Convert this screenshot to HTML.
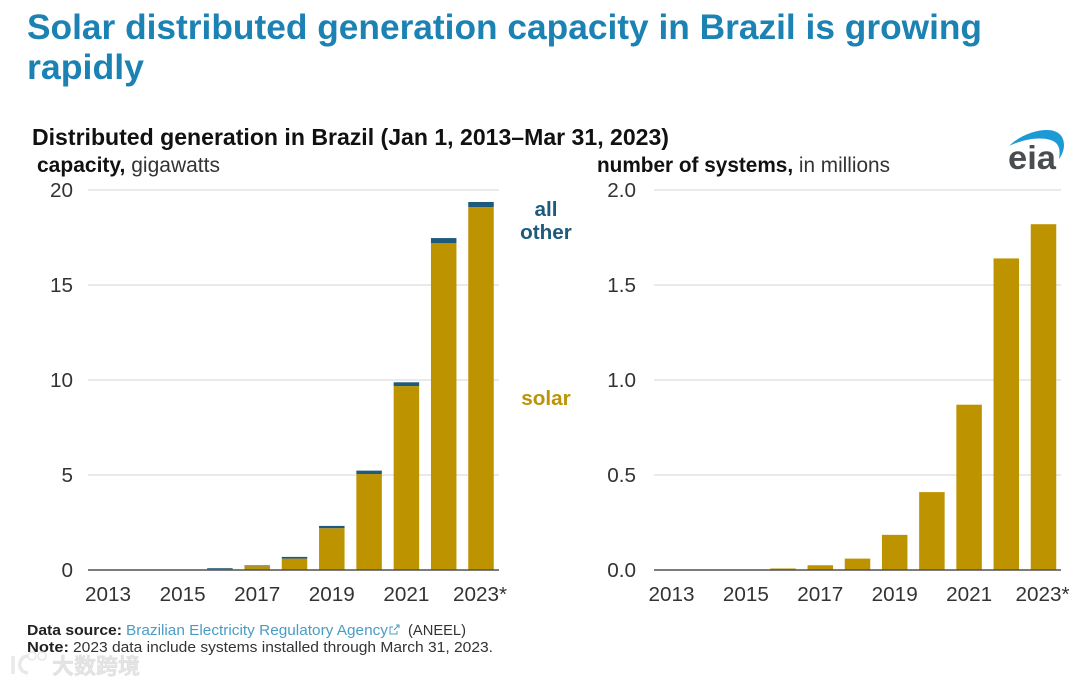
<!DOCTYPE html>
<html lang="en">
<head>
<meta charset="utf-8">
<title>Solar distributed generation capacity in Brazil</title>
<style>
html,body{margin:0;padding:0;background:#fff;width:1080px;height:684px;overflow:hidden}
svg{display:block;filter:blur(0.35px)}
text{font-family:"Liberation Sans",Arial,sans-serif}
</style>
</head>
<body>
<svg id="chart" xmlns="http://www.w3.org/2000/svg" width="1080" height="684" viewBox="0 0 1080 684">
  <g font-weight="700" font-size="35" fill="#1b82b3">
    <text x="27" y="39" textLength="955" lengthAdjust="spacingAndGlyphs">Solar distributed generation capacity in Brazil is growing</text>
    <text x="27" y="79" textLength="117" lengthAdjust="spacingAndGlyphs">rapidly</text>
  </g>
  <text x="32" y="145" font-size="23" font-weight="700" fill="#111" textLength="637" lengthAdjust="spacingAndGlyphs">Distributed generation in Brazil (Jan 1, 2013–Mar 31, 2023)</text>
  <text x="37" y="172" font-size="20.8" fill="#333" textLength="183" lengthAdjust="spacingAndGlyphs"><tspan font-weight="700" fill="#111">capacity,</tspan> gigawatts</text>
  <text x="597" y="172" font-size="20.8" fill="#333" textLength="293" lengthAdjust="spacingAndGlyphs"><tspan font-weight="700" fill="#111">number of systems,</tspan> in millions</text>
  <g id="left-panel"></g>
  <g id="right-panel"></g>
  <text x="546" y="216" text-anchor="middle" font-size="20.7" font-weight="700" fill="#1e5a7e">all</text>
  <text x="546" y="239" text-anchor="middle" font-size="20.7" font-weight="700" fill="#1e5a7e">other</text>
  <text x="546" y="405" text-anchor="middle" font-size="20.7" font-weight="700" fill="#bd9308">solar</text>
  <g>
    <path d="M1009 146C1020 135 1036 130 1047 130C1058 130 1064 136 1064 145C1064 150 1062 155 1059 159C1060 152 1060 147 1056 143C1050 137 1030 136 1009 146Z" fill="#1c9ad6"/>
    <text x="1008" y="169" font-size="33" font-weight="700" fill="#4a4d50" textLength="48" lengthAdjust="spacingAndGlyphs">eia</text>
  </g>
  <g font-size="15.2" fill="#333">
    <text x="27" y="635" font-weight="700" fill="#222" textLength="95" lengthAdjust="spacingAndGlyphs">Data source:</text>
    <text x="126" y="635" fill="#4a9cc4" textLength="262" lengthAdjust="spacingAndGlyphs">Brazilian Electricity Regulatory Agency</text>
    <path d="M393 627h-3v7h7v-3M394 630l5-5M396 625h3v3" fill="none" stroke="#4a9cc4" stroke-width="1"/>
    <text x="408" y="635" textLength="58" lengthAdjust="spacingAndGlyphs">(ANEEL)</text>
    <text x="27" y="652" font-weight="700" fill="#222" textLength="42" lengthAdjust="spacingAndGlyphs">Note:</text>
    <text x="73" y="652" textLength="420" lengthAdjust="spacingAndGlyphs">2023 data include systems installed through March 31, 2023.</text>
  </g>
  <g opacity="0.82">
    <path d="M13 656v18M28 656c-10 0-12 16 0 17" fill="none" stroke="#e4e4e4" stroke-width="3.5"/>
    <circle cx="32" cy="656" r="4" fill="none" stroke="#e4e4e4" stroke-width="1.5"/>
    <circle cx="42" cy="656" r="4" fill="none" stroke="#e4e4e4" stroke-width="1.5"/>
    <text x="52" y="674" font-size="22" font-weight="700" fill="#dedede" stroke="#ccc" stroke-width="0.3" style='font-family:"Noto Sans CJK SC","WenQuanYi Zen Hei",sans-serif'>大数跨境</text>
  </g>
</svg>
<script>
var years = ['2013','2014','2015','2016','2017','2018','2019','2020','2021','2022','2023*'];
var solarCapacity = [0, 0.005, 0.015, 0.06, 0.2, 0.6, 2.2, 5.05, 9.68, 17.2, 19.1];
var otherCapacity = [0, 0.005, 0.01, 0.04, 0.04, 0.09, 0.12, 0.18, 0.2, 0.27, 0.27];
var systemCounts = [0, 0.0005, 0.001, 0.008, 0.025, 0.06, 0.185, 0.41, 0.87, 1.64, 1.82];
var capacityTicks = [0, 5, 10, 15, 20];
var capacityTickLabels = ['0', '5', '10', '15', '20'];
var systemTicks = [0, 0.5, 1, 1.5, 2];
var systemTickLabels = ['0.0', '0.5', '1.0', '1.5', '2.0'];

var SVG_NS = 'http://www.w3.org/2000/svg';

function makeSvg(tag, attrs, parent) {
  var el = document.createElementNS(SVG_NS, tag);
  for (var k in attrs) { el.setAttribute(k, attrs[k]); }
  parent.appendChild(el);
  return el;
}

function drawPanel(cfg) {
  var root = document.getElementById(cfg.rootId);
  var yBase = 570, yTop = 190;
  var barWidth = 25.5;
  function yScale(v) { return yBase - (v / cfg.yMax) * (yBase - yTop); }
  function xScale(i) { return cfg.firstCenter + i * cfg.step; }

  cfg.ticks.forEach(function (t, i) {
    if (t !== 0) {
      var grid = makeSvg('line', {x1: cfg.axisLeft, x2: cfg.axisRight, y1: yScale(t), y2: yScale(t), stroke: '#e3e3e3', 'stroke-width': 1.6}, root);
      
      
    }
    var label = makeSvg('text', {x: cfg.axisLeft - cfg.labelGap, y: yScale(t) + 7, 'text-anchor': 'end', 'font-size': 20.7, fill: '#333'}, root);
    
    
    label.textContent = cfg.tickLabels[i];
  });

  years.forEach(function (year, i) {
    var cx = xScale(i);
    var primaryValue = cfg.primary[i];
    var primaryBar = makeSvg('rect', {x: cx - barWidth / 2, y: yScale(primaryValue), width: barWidth, height: yBase - yScale(primaryValue), fill: '#bd9300'}, root);
    
    
    if (cfg.secondary) {
      var total = primaryValue + cfg.secondary[i];
      var secondaryBar = makeSvg('rect', {x: cx - barWidth / 2, y: yScale(total), width: barWidth, height: yScale(primaryValue) - yScale(total), fill: '#1d5a7c'}, root);
      
      
    }
    if (i % 2 === 0) {
      var yearLabel = makeSvg('text', {x: year === '2023*' ? cx - 1 : cx, y: 601, 'text-anchor': 'middle', 'font-size': 20.7, fill: '#333'}, root);
      
      
      yearLabel.textContent = year;
    }
  });

  var axis = makeSvg('line', {x1: cfg.axisLeft, x2: cfg.axisRight, y1: yBase, y2: yBase, stroke: '#505050', 'stroke-width': 1.6}, root);
  
  
}

drawPanel({rootId: 'left-panel', primary: solarCapacity, secondary: otherCapacity, yMax: 20, ticks: capacityTicks, tickLabels: capacityTickLabels, firstCenter: 108, step: 37.3, axisLeft: 88, axisRight: 499, labelGap: 15});
drawPanel({rootId: 'right-panel', primary: systemCounts, secondary: null, yMax: 2, ticks: systemTicks, tickLabels: systemTickLabels, firstCenter: 671.5, step: 37.2, axisLeft: 654, axisRight: 1061, labelGap: 18});
</script>
</body>
</html>
